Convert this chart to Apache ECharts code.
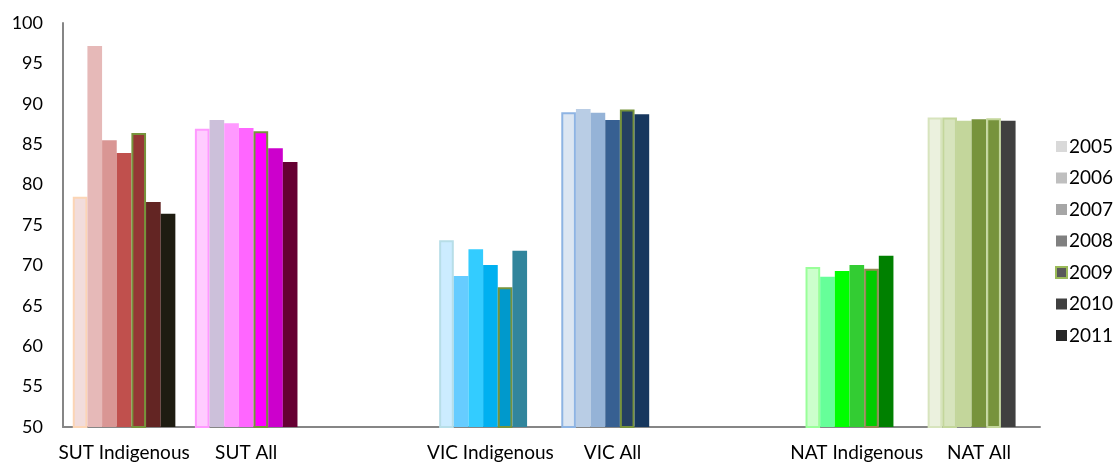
<!DOCTYPE html>
<html>
<head>
<meta charset="utf-8">
<script src="https://cdn.jsdelivr.net/npm/echarts@6/dist/echarts.min.js"></script>
<style>
  html, body { margin: 0; padding: 0; background: #ffffff; }
  #chart { width: 1117px; height: 464px; }
</style>
</head>
<body>
<div id="chart"></div>
<script>
// Groups along the x axis (empty names leave a spacer between regions)
const categories = ['SUT Indigenous', 'SUT All', '', 'VIC Indigenous', 'VIC All', '', 'NAT Indigenous', 'NAT All'];
const years = ['2005', '2006', '2007', '2008', '2009', '2010', '2011'];

// Values per year, one entry per category
const v2005 = [78.5, 86.9, null, 73.1, 88.95, null, 69.8, 88.3];
const v2006 = [97.15, 88.0, null, 68.7, 89.35, null, 68.6, 88.3];
const v2007 = [85.5, 87.6, null, 72.0, 88.9, null, 69.3, 87.9];
const v2008 = [83.9, 87.0, null, 70.05, 88.0, null, 70.05, 88.1];
const v2009 = [86.4, 86.6, null, 67.3, 89.3, null, 69.6, 88.2];
const v2010 = [77.85, 84.5, null, 71.8, 88.7, null, 71.2, 87.9];
const v2011 = [76.4, 82.8, null, null, null, null, null, null];
const seriesValues = [v2005, v2006, v2007, v2008, v2009, v2010, v2011];

const yTicks = { min: 50, max: 100, interval: 5 };

// Fill colour of each bar: [category][year]
const fills = [
  ['#f2dcdb', '#e6b9b8', '#d99694', '#c0504d', '#953735', '#632523', '#1e1c11'],
  ['#ffccff', '#ccc0da', '#ff99ff', '#ff66ff', '#ff00ff', '#cc00cc', '#660033'],
  [],
  ['#ccecff', '#66ccff', '#33ccff', '#00b0f0', '#0099cc', '#31859c', null],
  ['#dce6f2', '#b9cde5', '#95b3d7', '#376092', '#254061', '#17375e', null],
  [],
  ['#ccffcc', '#66ff99', '#00ff00', '#33cc33', '#00cc00', '#008000', null],
  ['#ebf1de', '#d7e4bd', '#c3d69b', '#77933c', '#77933c', '#404040', null]
];
// Outline colour of each bar (null = no outline)
const borders = [
  ['#fcd5b5', null, null, null, '#77933c', null, null],
  ['#ff99ff', null, null, null, '#77933c', null, null],
  [],
  ['#b7dee8', null, null, null, '#77933c', null, null],
  ['#8eb4e3', null, null, null, '#77933c', null, null],
  [],
  ['#99ff99', null, null, null, '#948a54', null, null],
  ['#d7e4bd', '#c3d69b', null, null, '#c3d69b', null, null]
];
// Legend swatches
const legendFills = ['#d9d9d9', '#bfbfbf', '#a6a6a6', '#808080', '#595959', '#404040', '#262626'];
const legendBorders = [null, null, null, null, '#9bbb59', null, null];

const font = 'Lato, "Open Sans", sans-serif';

const series = years.map((y, yi) => ({
  name: y,
  type: 'bar',
  barGap: '0%',
  barCategoryGap: '16%',
  itemStyle: {
    color: legendFills[yi],
    borderColor: legendBorders[yi] || legendFills[yi],
    borderWidth: legendBorders[yi] ? 2 : 0
  },
  data: seriesValues[yi].map((v, ci) => {
    if (v == null) return null;
    const b = borders[ci][yi];
    return {
      value: v,
      itemStyle: {
        color: fills[ci][yi],
        borderColor: b || fills[ci][yi],
        borderWidth: b ? 2 : 0
      }
    };
  })
}));

const chart = echarts.init(document.getElementById('chart'), null, { renderer: 'canvas' });
chart.setOption({
  animation: false,
  backgroundColor: '#ffffff',
  grid: { left: 63, right: 77, top: 23, bottom: 37, containLabel: false },
  legend: {
    orient: 'vertical',
    left: 1055,
    top: 137,
    padding: 0,
    itemWidth: 11,
    itemHeight: 11,
    itemGap: 12.5,
    icon: 'rect',
    textStyle: { fontFamily: font, fontSize: 19, color: '#000000', padding: [0, 0, 0, -3] },
    data: years.map((y, i) => ({
      name: y,
      itemStyle: {
        color: legendFills[i],
        borderColor: legendBorders[i] || legendFills[i],
        borderWidth: legendBorders[i] ? 2 : 0
      }
    }))
  },
  xAxis: {
    type: 'category',
    data: categories,
    axisLine: { show: true, lineStyle: { color: '#868686', width: 2 } },
    axisTick: { show: false },
    axisLabel: { interval: 0, margin: 16, fontFamily: font, fontSize: 19, color: '#000000' },
    splitLine: { show: false }
  },
  yAxis: {
    type: 'value',
    min: yTicks.min,
    max: yTicks.max,
    interval: yTicks.interval,
    axisLine: { show: true, lineStyle: { color: '#868686', width: 2 } },
    axisTick: { show: false },
    axisLabel: { margin: 20, fontFamily: font, fontSize: 18, color: '#000000' },
    splitLine: { show: false }
  },
  series: series
});
</script>
</body>
</html>
